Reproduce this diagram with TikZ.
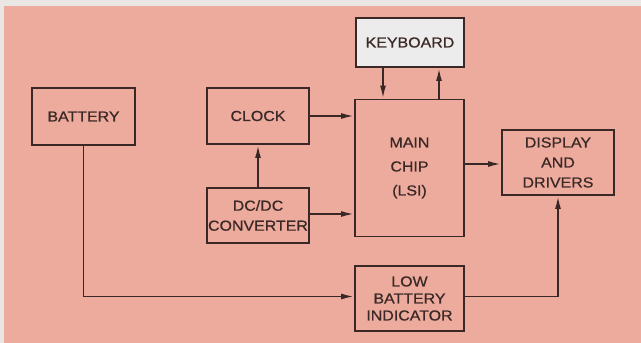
\documentclass[tikz,border=0pt]{standalone}
\usepackage{fontspec}
\setmainfont{Liberation Sans}[FakeStretch=1.1,FakeBold=0.6]
\usetikzlibrary{arrows.meta}
\definecolor{pinkbg}{RGB}{236,171,157}
\definecolor{edgegray}{RGB}{233,230,228}
\definecolor{ink}{RGB}{58,40,38}
\definecolor{kbfill}{RGB}{236,236,236}
\tikzset{
  blk/.style={draw=ink, line width=1.9pt, text=ink, align=center, inner sep=0pt,
    font=\fontsize{14.5}{20}\selectfont},
  conn/.style={draw=ink, line width=1.8pt, -{Latex[length=13pt,width=6pt]}},
}
\begin{document}
\begin{tikzpicture}[x=1pt,y=-1pt]
\useasboundingbox (0,0) rectangle (641,343);
\fill[edgegray] (0,0) rectangle (641,343);
\fill[pinkbg] (4,6) rectangle (641,343);

\node[blk, fill=kbfill, minimum width=108pt, minimum height=49pt] (kb) at (410,42.5) {KEYBOARD};
\node[blk, minimum width=103pt, minimum height=57pt] (bat) at (83.5,116.5) {BATTERY};
\node[blk, minimum width=102pt, minimum height=56pt] (clk) at (258,116) {CLOCK};
\node[blk, minimum width=102pt, minimum height=55pt] (dc) at (258,215.5) {DC/DC\\CONVERTER};
\node[blk, minimum width=109pt, minimum height=137pt, font=\fontsize{14.5}{24}\selectfont] (main) at (409.5,168) {MAIN\\CHIP\\(LSI)};
\node[blk, minimum width=112pt, minimum height=65pt] (disp) at (558,162.5) {DISPLAY\\AND\\DRIVERS};
\node[blk, minimum width=109pt, minimum height=65pt, font=\fontsize{14.5}{17}\selectfont] (low) at (409.5,298.5) {LOW\\BATTERY\\INDICATOR};

\draw[conn] ([xshift=-27pt]kb.south) -- ([xshift=-27pt]kb.south |- main.north);
\draw[conn] ([xshift=29pt]kb.south |- main.north) -- ([xshift=29pt]kb.south);
\draw[conn] (clk.east) -- (clk.east -| main.west);
\draw[conn] ([yshift=1.5pt]dc.east) -- ([yshift=1.5pt]dc.east -| main.west);
\draw[conn] (dc.north) -- (clk.south);
\draw[conn] ([yshift=-1.5pt]disp.west -| main.east) -- ([yshift=-1.5pt]disp.west);
\draw[conn] (bat.south) |- ([yshift=2pt]low.west);
\draw[conn] ([yshift=2pt]low.east) -| (disp.south);
\end{tikzpicture}
\end{document}
